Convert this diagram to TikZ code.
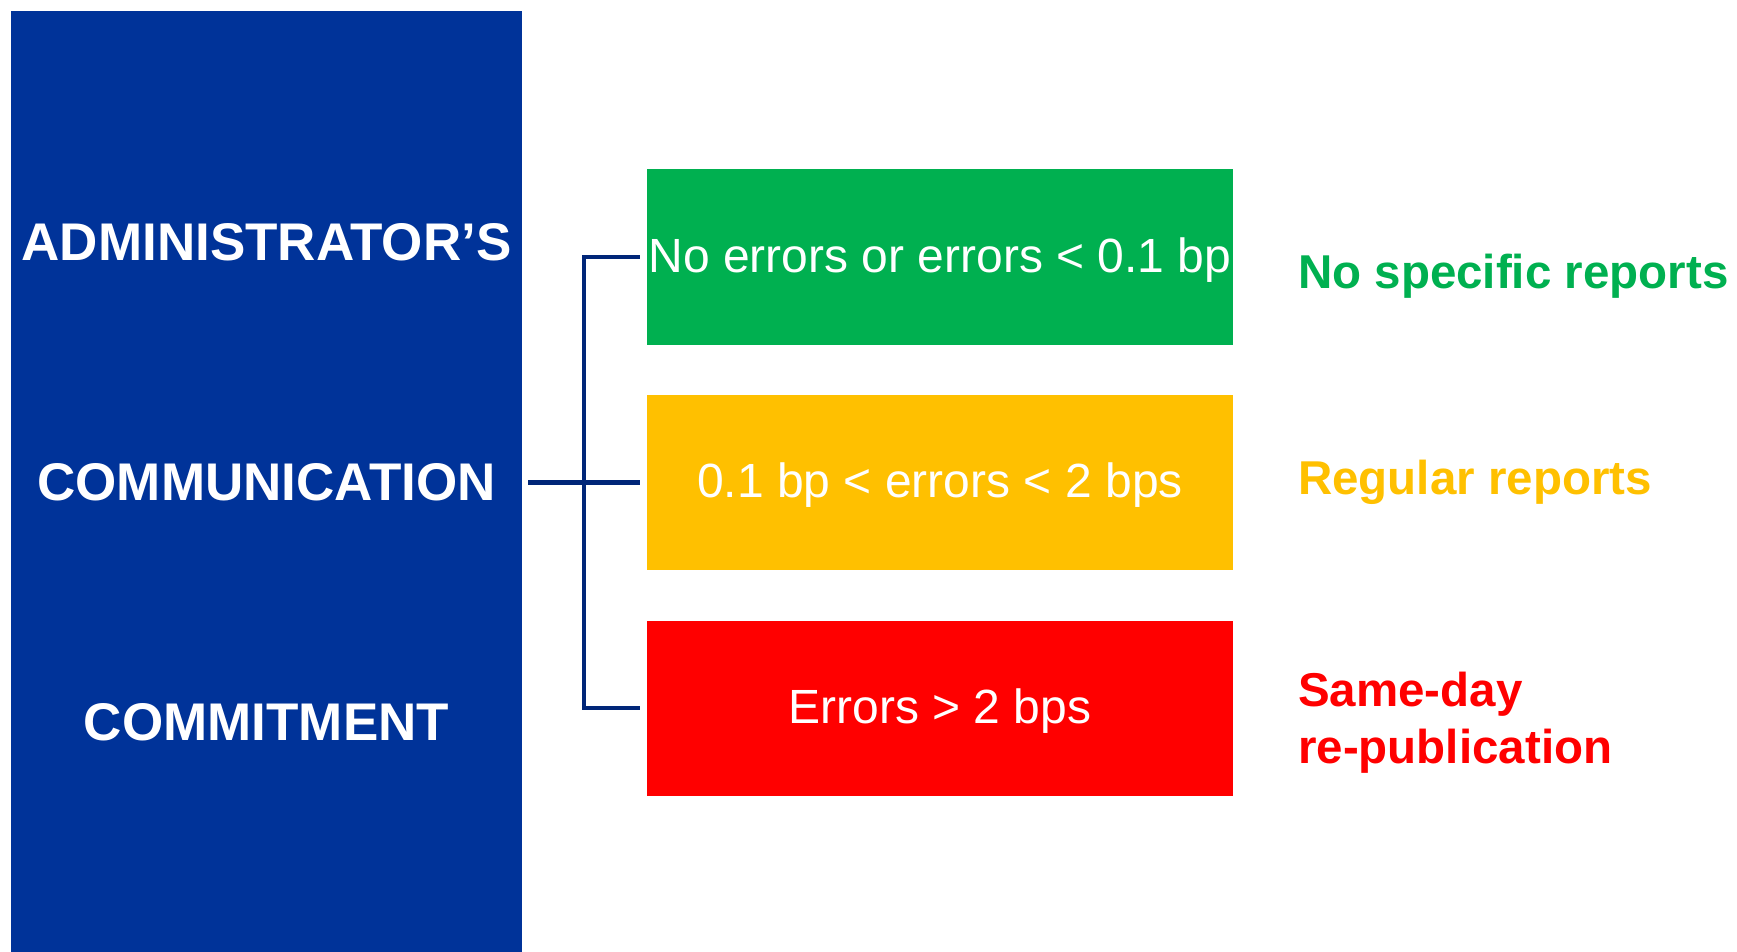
\documentclass[tikz,border=0pt]{standalone}
\usepackage{fontspec}
\setmainfont{Liberation Sans}
\usetikzlibrary{calc}

\definecolor{panelblue}{RGB}{0,51,153}
\definecolor{linkblue}{RGB}{0,38,120}
\definecolor{okgreen}{RGB}{0,176,80}
\definecolor{warnyellow}{RGB}{255,192,0}
\definecolor{alertred}{RGB}{255,0,0}

\tikzset{
  panel/.style={fill=panelblue, draw=none, inner sep=0pt,
    minimum width=511pt, minimum height=941pt},
  paneltext/.style={text=white, inner sep=0pt, anchor=base,
    font=\fontsize{53}{60}\selectfont\bfseries},
  level/.style={draw=none, inner sep=0pt, minimum width=586pt,
    minimum height=175pt, text=white, text height=35pt, text depth=5pt,
    font=\fontsize{48}{56}\selectfont},
  outcome/.style={inner sep=0pt, anchor=base west, align=left,
    font=\fontsize{47.5}{56.5}\selectfont\bfseries},
  link/.style={draw=linkblue, line width=4.5pt}
}

\begin{document}
\begin{tikzpicture}[x=1pt, y=-1pt]
  \useasboundingbox (0,0) rectangle (1737,952);

  % left panel with its three words
  \node[panel] (panel) at (266.5,481.5) {};
  \node[paneltext] (w1) at (266.5,260) {ADMINISTRATOR’S};
  \node[paneltext] (w2) at (266.5,500) {COMMUNICATION};
  \node[paneltext] (w3) at (266.5,740) {COMMITMENT};

  % error levels
  \node[level, fill=okgreen]    (g) at (940,257)   {No errors or errors < 0.1 bp};
  \node[level, fill=warnyellow] (y) at (940,482.5) {0.1 bp < errors < 2 bps};
  \node[level, fill=alertred]   (r) at (940,708)   {Errors > 2 bps};

  % resulting actions
  \node[outcome, text=okgreen]    (og) at (1298,288) {No specific reports};
  \node[outcome, text=warnyellow] (oy) at (1298,494) {Regular reports};
  \node[outcome, text=alertred]   (or) at (1298,763) {Same-day\\re-publication};

  % bracket joining the panel to the three levels
  \coordinate (spine) at (584,482.5);
  \draw[link] ($(panel.east |- y.west)+(6,0)$) -- ($(y.west)+(-7,0)$);
  \draw[link] ($(g.west)+(-7,0)$) -| (spine) |- ($(r.west)+(-7,0)$);
\end{tikzpicture}
\end{document}
